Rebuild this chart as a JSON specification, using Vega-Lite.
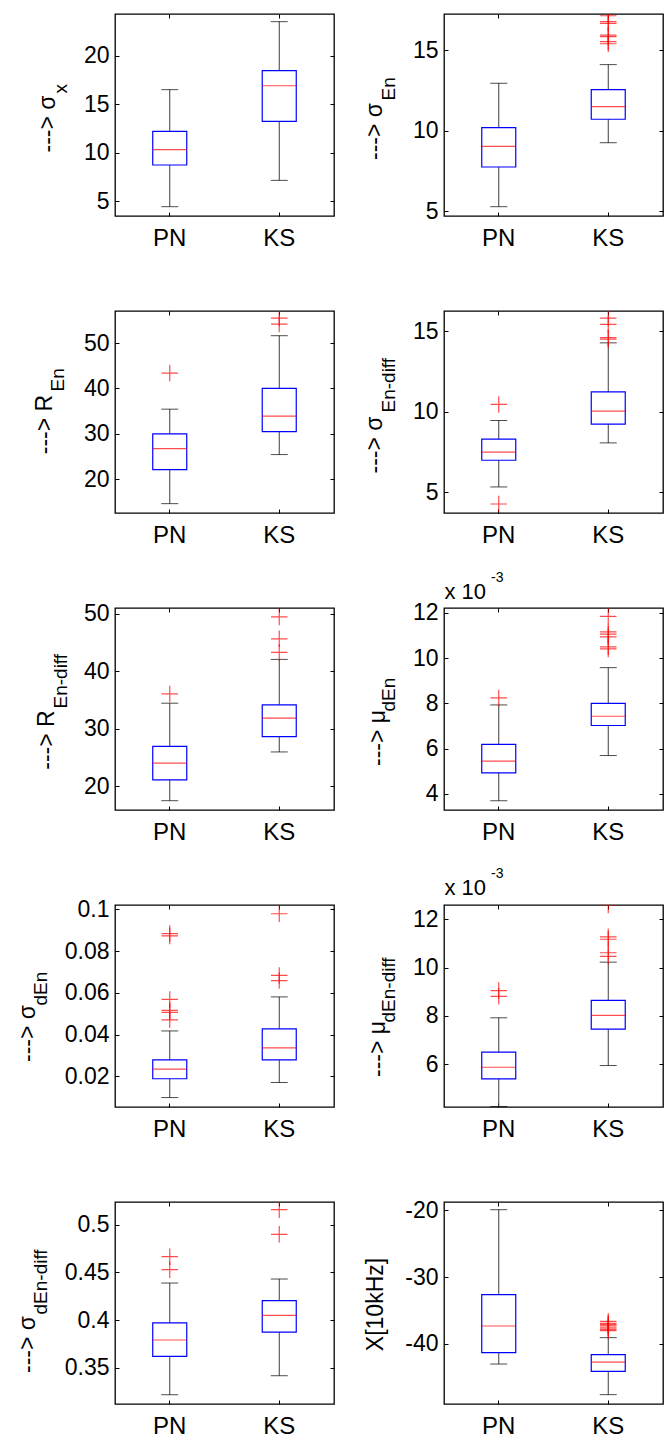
{
  "$schema": "https://vega.github.io/schema/vega-lite/v6.json",
  "background": "white",
  "padding": {"left": 15, "top": 12, "right": 0, "bottom": 0},
  "datasets": {
    "stats": [
      {"panel": "P1", "group": "PN", "lo": 4.45, "q1": 8.74, "med": 10.32, "q3": 12.21, "hi": 16.5},
      {"panel": "P1", "group": "KS", "lo": 7.16, "q1": 13.24, "med": 16.9, "q3": 18.46, "hi": 23.5},
      {"panel": "P2", "group": "PN", "lo": 5.27, "q1": 7.74, "med": 9.02, "q3": 10.19, "hi": 12.95},
      {"panel": "P2", "group": "KS", "lo": 9.25, "q1": 10.71, "med": 11.49, "q3": 12.55, "hi": 14.11},
      {"panel": "P3", "group": "PN", "lo": 14.63, "q1": 22.13, "med": 26.76, "q3": 30.0, "hi": 35.44},
      {"panel": "P3", "group": "KS", "lo": 25.44, "q1": 30.51, "med": 33.9, "q3": 40.0, "hi": 51.62},
      {"panel": "P4", "group": "PN", "lo": 5.33, "q1": 6.99, "med": 7.49, "q3": 8.3, "hi": 9.46},
      {"panel": "P4", "group": "KS", "lo": 8.07, "q1": 9.23, "med": 10.04, "q3": 11.24, "hi": 14.29},
      {"panel": "P5", "group": "PN", "lo": 17.46, "q1": 21.09, "med": 23.98, "q3": 26.92, "hi": 34.42},
      {"panel": "P5", "group": "KS", "lo": 25.94, "q1": 28.59, "med": 31.82, "q3": 34.13, "hi": 42.04},
      {"panel": "P6", "group": "PN", "lo": 0.00369, "q1": 0.00492, "med": 0.00544, "q3": 0.00618, "hi": 0.00793},
      {"panel": "P6", "group": "KS", "lo": 0.00569, "q1": 0.00702, "med": 0.00743, "q3": 0.008, "hi": 0.00958},
      {"panel": "P7", "group": "PN", "lo": 0.0099, "q1": 0.0189, "med": 0.0235, "q3": 0.0279, "hi": 0.0418},
      {"panel": "P7", "group": "KS", "lo": 0.0171, "q1": 0.0279, "med": 0.0337, "q3": 0.0428, "hi": 0.0581},
      {"panel": "P8", "group": "PN", "lo": 0.00424, "q1": 0.00539, "med": 0.00587, "q3": 0.0065, "hi": 0.00792},
      {"panel": "P8", "group": "KS", "lo": 0.00594, "q1": 0.00745, "med": 0.00802, "q3": 0.00864, "hi": 0.01023},
      {"panel": "P9", "group": "PN", "lo": 0.322, "q1": 0.3622, "med": 0.3793, "q3": 0.3971, "hi": 0.4389},
      {"panel": "P9", "group": "KS", "lo": 0.3419, "q1": 0.3876, "med": 0.4051, "q3": 0.4204, "hi": 0.4431},
      {"panel": "P10", "group": "PN", "lo": -43.0, "q1": -41.3, "med": -37.31, "q3": -32.62, "hi": -19.9},
      {"panel": "P10", "group": "KS", "lo": -47.58, "q1": -44.09, "med": -42.7, "q3": -41.6, "hi": -39.05}
    ],
    "outliers": [
      {"panel": "P2", "group": "KS", "v": 15.41},
      {"panel": "P2", "group": "KS", "v": 15.54},
      {"panel": "P2", "group": "KS", "v": 15.85},
      {"panel": "P2", "group": "KS", "v": 15.95},
      {"panel": "P2", "group": "KS", "v": 16.68},
      {"panel": "P2", "group": "KS", "v": 16.78},
      {"panel": "P2", "group": "KS", "v": 17.15},
      {"panel": "P3", "group": "PN", "v": 43.38},
      {"panel": "P3", "group": "KS", "v": 54.19},
      {"panel": "P3", "group": "KS", "v": 55.51},
      {"panel": "P4", "group": "PN", "v": 10.46},
      {"panel": "P4", "group": "PN", "v": 4.27},
      {"panel": "P4", "group": "KS", "v": 14.52},
      {"panel": "P4", "group": "KS", "v": 14.61},
      {"panel": "P4", "group": "KS", "v": 15.44},
      {"panel": "P4", "group": "KS", "v": 15.83},
      {"panel": "P5", "group": "PN", "v": 36.04},
      {"panel": "P5", "group": "KS", "v": 43.25},
      {"panel": "P5", "group": "KS", "v": 45.61},
      {"panel": "P5", "group": "KS", "v": 49.42},
      {"panel": "P6", "group": "PN", "v": 0.00824},
      {"panel": "P6", "group": "KS", "v": 0.01041},
      {"panel": "P6", "group": "KS", "v": 0.0105},
      {"panel": "P6", "group": "KS", "v": 0.01094},
      {"panel": "P6", "group": "KS", "v": 0.01106},
      {"panel": "P6", "group": "KS", "v": 0.01116},
      {"panel": "P6", "group": "KS", "v": 0.01185},
      {"panel": "P7", "group": "PN", "v": 0.0471},
      {"panel": "P7", "group": "PN", "v": 0.0507},
      {"panel": "P7", "group": "PN", "v": 0.0516},
      {"panel": "P7", "group": "PN", "v": 0.0569},
      {"panel": "P7", "group": "PN", "v": 0.0873},
      {"panel": "P7", "group": "PN", "v": 0.0884},
      {"panel": "P7", "group": "KS", "v": 0.0659},
      {"panel": "P7", "group": "KS", "v": 0.0684},
      {"panel": "P7", "group": "KS", "v": 0.0979},
      {"panel": "P8", "group": "PN", "v": 0.00881},
      {"panel": "P8", "group": "PN", "v": 0.00905},
      {"panel": "P8", "group": "KS", "v": 0.01047},
      {"panel": "P8", "group": "KS", "v": 0.01062},
      {"panel": "P8", "group": "KS", "v": 0.01118},
      {"panel": "P8", "group": "KS", "v": 0.01128},
      {"panel": "P8", "group": "KS", "v": 0.0126},
      {"panel": "P9", "group": "PN", "v": 0.4529},
      {"panel": "P9", "group": "PN", "v": 0.4665},
      {"panel": "P9", "group": "KS", "v": 0.4899},
      {"panel": "P9", "group": "KS", "v": 0.5157},
      {"panel": "P10", "group": "KS", "v": -36.6},
      {"panel": "P10", "group": "KS", "v": -36.9},
      {"panel": "P10", "group": "KS", "v": -37.1},
      {"panel": "P10", "group": "KS", "v": -37.3},
      {"panel": "P10", "group": "KS", "v": -37.6},
      {"panel": "P10", "group": "KS", "v": -37.8},
      {"panel": "P10", "group": "KS", "v": -38.0}
    ]
  },
  "columns": 2,
  "spacing": {"row": 95, "column": 110},
  "bounds": "flush",
  "concat": [
    {
      "width": 219, "height": 202,
      "data": {"name": "stats"},
      "transform": [{"filter": "datum.panel === 'P1'"}],
      "layer": [
        {"mark": {"type": "rule", "color": "#3c3c3c", "strokeWidth": 1},
         "encoding": {
           "x": {"field": "group", "type": "nominal", "scale": {"domain": ["PN", "KS"], "paddingInner": 0, "paddingOuter": 0}, "axis": {"orient": "bottom", "title": null}},
           "y": {"field": "lo", "type": "quantitative", "scale": {"domain": [3.49, 24.29], "nice": false, "zero": false}, "axis": {"orient": "left", "values": [5, 10, 15, 20], "labelExpr": "'' + datum.value", "title": "---> σ", "titleX": -61, "titleY": 109.5}},
           "y2": {"field": "hi"}}},
        {"transform": [{"fold": ["lo", "hi"], "as": ["end", "v"]}],
         "mark": {"type": "tick", "orient": "horizontal", "size": 17, "thickness": 1, "color": "black"},
         "encoding": {"x": {"field": "group", "type": "nominal", "axis": null}, "y": {"field": "v", "type": "quantitative", "axis": null}}},
        {"mark": {"type": "bar", "width": 34, "fill": "white", "stroke": "#0000ff", "strokeWidth": 1.2},
         "encoding": {
           "x": {"field": "group", "type": "nominal", "axis": {"orient": "top", "title": null}},
           "y": {"field": "q1", "type": "quantitative", "axis": {"orient": "right", "values": [5, 10, 15, 20], "title": "x", "titleX": -268, "titleY": 79}},
           "y2": {"field": "q3"}}},
        {"mark": {"type": "tick", "orient": "horizontal", "size": 34, "thickness": 1.2, "color": "#ff0000"},
         "encoding": {"x": {"field": "group", "type": "nominal", "axis": null}, "y": {"field": "med", "type": "quantitative", "axis": null}}},
        {"data": {"name": "outliers"}, "transform": [{"filter": "datum.panel === 'P1'"}],
         "mark": {"type": "point", "shape": "M-1,0H1M0,-1V1", "filled": false, "color": "#ff0000", "size": 272, "strokeWidth": 1.2, "clip": true},
         "encoding": {"x": {"field": "group", "type": "nominal", "axis": null}, "y": {"field": "v", "type": "quantitative", "axis": null}}}
      ],
      "resolve": {"axis": {"x": "independent", "y": "independent"}}
    },
    {
      "width": 219, "height": 202,
      "data": {"name": "stats"},
      "transform": [{"filter": "datum.panel === 'P2'"}],
      "layer": [
        {"mark": {"type": "rule", "color": "#3c3c3c", "strokeWidth": 1},
         "encoding": {
           "x": {"field": "group", "type": "nominal", "scale": {"domain": ["PN", "KS"], "paddingInner": 0, "paddingOuter": 0}, "axis": {"orient": "bottom", "title": null}},
           "y": {"field": "lo", "type": "quantitative", "scale": {"domain": [4.69, 17.26], "nice": false, "zero": false}, "axis": {"orient": "left", "values": [5, 10, 15], "labelExpr": "'' + datum.value", "title": "---> σ", "titleX": -63, "titleY": 117}},
           "y2": {"field": "hi"}}},
        {"transform": [{"fold": ["lo", "hi"], "as": ["end", "v"]}],
         "mark": {"type": "tick", "orient": "horizontal", "size": 17, "thickness": 1, "color": "black"},
         "encoding": {"x": {"field": "group", "type": "nominal", "axis": null}, "y": {"field": "v", "type": "quantitative", "axis": null}}},
        {"mark": {"type": "bar", "width": 34, "fill": "white", "stroke": "#0000ff", "strokeWidth": 1.2},
         "encoding": {
           "x": {"field": "group", "type": "nominal", "axis": {"orient": "top", "title": null}},
           "y": {"field": "q1", "type": "quantitative", "axis": {"orient": "right", "values": [5, 10, 15], "title": "En", "titleX": -269, "titleY": 86}},
           "y2": {"field": "q3"}}},
        {"mark": {"type": "tick", "orient": "horizontal", "size": 34, "thickness": 1.2, "color": "#ff0000"},
         "encoding": {"x": {"field": "group", "type": "nominal", "axis": null}, "y": {"field": "med", "type": "quantitative", "axis": null}}},
        {"data": {"name": "outliers"}, "transform": [{"filter": "datum.panel === 'P2'"}],
         "mark": {"type": "point", "shape": "M-1,0H1M0,-1V1", "filled": false, "color": "#ff0000", "size": 272, "strokeWidth": 1.2, "clip": true},
         "encoding": {"x": {"field": "group", "type": "nominal", "axis": null}, "y": {"field": "v", "type": "quantitative", "axis": null}}}
      ],
      "resolve": {"axis": {"x": "independent", "y": "independent"}}
    },
    {
      "width": 219, "height": 202,
      "data": {"name": "stats"},
      "transform": [{"filter": "datum.panel === 'P3'"}],
      "layer": [
        {"mark": {"type": "rule", "color": "#3c3c3c", "strokeWidth": 1},
         "encoding": {
           "x": {"field": "group", "type": "nominal", "scale": {"domain": ["PN", "KS"], "paddingInner": 0, "paddingOuter": 0}, "axis": {"orient": "bottom", "title": null}},
           "y": {"field": "lo", "type": "quantitative", "scale": {"domain": [12.57, 57.06], "nice": false, "zero": false}, "axis": {"orient": "left", "values": [20, 30, 40, 50], "labelExpr": "'' + datum.value", "title": "---> R", "titleX": -64, "titleY": 113}},
           "y2": {"field": "hi"}}},
        {"transform": [{"fold": ["lo", "hi"], "as": ["end", "v"]}],
         "mark": {"type": "tick", "orient": "horizontal", "size": 17, "thickness": 1, "color": "black"},
         "encoding": {"x": {"field": "group", "type": "nominal", "axis": null}, "y": {"field": "v", "type": "quantitative", "axis": null}}},
        {"mark": {"type": "bar", "width": 34, "fill": "white", "stroke": "#0000ff", "strokeWidth": 1.2},
         "encoding": {
           "x": {"field": "group", "type": "nominal", "axis": {"orient": "top", "title": null}},
           "y": {"field": "q1", "type": "quantitative", "axis": {"orient": "right", "values": [20, 30, 40, 50], "title": "En", "titleX": -271, "titleY": 80}},
           "y2": {"field": "q3"}}},
        {"mark": {"type": "tick", "orient": "horizontal", "size": 34, "thickness": 1.2, "color": "#ff0000"},
         "encoding": {"x": {"field": "group", "type": "nominal", "axis": null}, "y": {"field": "med", "type": "quantitative", "axis": null}}},
        {"data": {"name": "outliers"}, "transform": [{"filter": "datum.panel === 'P3'"}],
         "mark": {"type": "point", "shape": "M-1,0H1M0,-1V1", "filled": false, "color": "#ff0000", "size": 272, "strokeWidth": 1.2, "clip": true},
         "encoding": {"x": {"field": "group", "type": "nominal", "axis": null}, "y": {"field": "v", "type": "quantitative", "axis": null}}}
      ],
      "resolve": {"axis": {"x": "independent", "y": "independent"}}
    },
    {
      "width": 219, "height": 202,
      "data": {"name": "stats"},
      "transform": [{"filter": "datum.panel === 'P4'"}],
      "layer": [
        {"mark": {"type": "rule", "color": "#3c3c3c", "strokeWidth": 1},
         "encoding": {
           "x": {"field": "group", "type": "nominal", "scale": {"domain": ["PN", "KS"], "paddingInner": 0, "paddingOuter": 0}, "axis": {"orient": "bottom", "title": null}},
           "y": {"field": "lo", "type": "quantitative", "scale": {"domain": [3.71, 16.27], "nice": false, "zero": false}, "axis": {"orient": "left", "values": [5, 10, 15], "labelExpr": "'' + datum.value", "title": "---> σ", "titleX": -63, "titleY": 133.5}},
           "y2": {"field": "hi"}}},
        {"transform": [{"fold": ["lo", "hi"], "as": ["end", "v"]}],
         "mark": {"type": "tick", "orient": "horizontal", "size": 17, "thickness": 1, "color": "black"},
         "encoding": {"x": {"field": "group", "type": "nominal", "axis": null}, "y": {"field": "v", "type": "quantitative", "axis": null}}},
        {"mark": {"type": "bar", "width": 34, "fill": "white", "stroke": "#0000ff", "strokeWidth": 1.2},
         "encoding": {
           "x": {"field": "group", "type": "nominal", "axis": {"orient": "top", "title": null}},
           "y": {"field": "q1", "type": "quantitative", "axis": {"orient": "right", "values": [5, 10, 15], "title": "En-diff", "titleX": -269, "titleY": 101}},
           "y2": {"field": "q3"}}},
        {"mark": {"type": "tick", "orient": "horizontal", "size": 34, "thickness": 1.2, "color": "#ff0000"},
         "encoding": {"x": {"field": "group", "type": "nominal", "axis": null}, "y": {"field": "med", "type": "quantitative", "axis": null}}},
        {"data": {"name": "outliers"}, "transform": [{"filter": "datum.panel === 'P4'"}],
         "mark": {"type": "point", "shape": "M-1,0H1M0,-1V1", "filled": false, "color": "#ff0000", "size": 272, "strokeWidth": 1.2, "clip": true},
         "encoding": {"x": {"field": "group", "type": "nominal", "axis": null}, "y": {"field": "v", "type": "quantitative", "axis": null}}}
      ],
      "resolve": {"axis": {"x": "independent", "y": "independent"}}
    },
    {
      "width": 219, "height": 202,
      "data": {"name": "stats"},
      "transform": [{"filter": "datum.panel === 'P5'"}],
      "layer": [
        {"mark": {"type": "rule", "color": "#3c3c3c", "strokeWidth": 1},
         "encoding": {
           "x": {"field": "group", "type": "nominal", "scale": {"domain": ["PN", "KS"], "paddingInner": 0, "paddingOuter": 0}, "axis": {"orient": "bottom", "title": null}},
           "y": {"field": "lo", "type": "quantitative", "scale": {"domain": [15.84, 50.98], "nice": false, "zero": false}, "axis": {"orient": "left", "values": [20, 30, 40, 50], "labelExpr": "'' + datum.value", "title": "---> R", "titleX": -62, "titleY": 131.5}},
           "y2": {"field": "hi"}}},
        {"transform": [{"fold": ["lo", "hi"], "as": ["end", "v"]}],
         "mark": {"type": "tick", "orient": "horizontal", "size": 17, "thickness": 1, "color": "black"},
         "encoding": {"x": {"field": "group", "type": "nominal", "axis": null}, "y": {"field": "v", "type": "quantitative", "axis": null}}},
        {"mark": {"type": "bar", "width": 34, "fill": "white", "stroke": "#0000ff", "strokeWidth": 1.2},
         "encoding": {
           "x": {"field": "group", "type": "nominal", "axis": {"orient": "top", "title": null}},
           "y": {"field": "q1", "type": "quantitative", "axis": {"orient": "right", "values": [20, 30, 40, 50], "title": "En-diff", "titleX": -268, "titleY": 100}},
           "y2": {"field": "q3"}}},
        {"mark": {"type": "tick", "orient": "horizontal", "size": 34, "thickness": 1.2, "color": "#ff0000"},
         "encoding": {"x": {"field": "group", "type": "nominal", "axis": null}, "y": {"field": "med", "type": "quantitative", "axis": null}}},
        {"data": {"name": "outliers"}, "transform": [{"filter": "datum.panel === 'P5'"}],
         "mark": {"type": "point", "shape": "M-1,0H1M0,-1V1", "filled": false, "color": "#ff0000", "size": 272, "strokeWidth": 1.2, "clip": true},
         "encoding": {"x": {"field": "group", "type": "nominal", "axis": null}, "y": {"field": "v", "type": "quantitative", "axis": null}}}
      ],
      "resolve": {"axis": {"x": "independent", "y": "independent"}}
    },
    {
      "width": 219, "height": 202,
      "title": {"text": "-3", "fontSize": 14, "dx": 47, "dy": 5, "offset": 0},
      "data": {"name": "stats"},
      "transform": [{"filter": "datum.panel === 'P6'"}],
      "layer": [
        {"mark": {"type": "rule", "color": "#3c3c3c", "strokeWidth": 1},
         "encoding": {
           "x": {"field": "group", "type": "nominal", "scale": {"domain": ["PN", "KS"], "paddingInner": 0, "paddingOuter": 0}, "axis": {"orient": "bottom", "title": null}},
           "y": {"field": "lo", "type": "quantitative", "scale": {"domain": [0.00328, 0.01222], "nice": false, "zero": false}, "axis": {"orient": "left", "values": [0.004, 0.006, 0.008, 0.01, 0.012], "labelExpr": "'' + round(datum.value * 1000)", "title": "---> μ", "titleX": -60, "titleY": 129.5}},
           "y2": {"field": "hi"}}},
        {"transform": [{"fold": ["lo", "hi"], "as": ["end", "v"]}],
         "mark": {"type": "tick", "orient": "horizontal", "size": 17, "thickness": 1, "color": "black"},
         "encoding": {"x": {"field": "group", "type": "nominal", "axis": null}, "y": {"field": "v", "type": "quantitative", "axis": null}}},
        {"mark": {"type": "bar", "width": 34, "fill": "white", "stroke": "#0000ff", "strokeWidth": 1.2},
         "encoding": {
           "x": {"field": "group", "type": "nominal", "axis": {"orient": "top", "title": "x 10", "titleX": 0, "titleY": -10, "titleFontSize": 22}},
           "y": {"field": "q1", "type": "quantitative", "axis": {"orient": "right", "values": [0.004, 0.006, 0.008, 0.01, 0.012], "title": "dEn", "titleX": -269, "titleY": 103}},
           "y2": {"field": "q3"}}},
        {"mark": {"type": "tick", "orient": "horizontal", "size": 34, "thickness": 1.2, "color": "#ff0000"},
         "encoding": {"x": {"field": "group", "type": "nominal", "axis": null}, "y": {"field": "med", "type": "quantitative", "axis": null}}},
        {"data": {"name": "outliers"}, "transform": [{"filter": "datum.panel === 'P6'"}],
         "mark": {"type": "point", "shape": "M-1,0H1M0,-1V1", "filled": false, "color": "#ff0000", "size": 272, "strokeWidth": 1.2, "clip": true},
         "encoding": {"x": {"field": "group", "type": "nominal", "axis": null}, "y": {"field": "v", "type": "quantitative", "axis": null}}}
      ],
      "resolve": {"axis": {"x": "independent", "y": "independent"}}
    },
    {
      "width": 219, "height": 202,
      "data": {"name": "stats"},
      "transform": [{"filter": "datum.panel === 'P7'"}],
      "layer": [
        {"mark": {"type": "rule", "color": "#3c3c3c", "strokeWidth": 1},
         "encoding": {
           "x": {"field": "group", "type": "nominal", "scale": {"domain": ["PN", "KS"], "paddingInner": 0, "paddingOuter": 0}, "axis": {"orient": "bottom", "title": null}},
           "y": {"field": "lo", "type": "quantitative", "scale": {"domain": [0.00538, 0.1021], "nice": false, "zero": false}, "axis": {"orient": "left", "values": [0.02, 0.04, 0.06, 0.08, 0.1], "labelExpr": "'' + datum.value", "title": "---> σ", "titleX": -81, "titleY": 128}},
           "y2": {"field": "hi"}}},
        {"transform": [{"fold": ["lo", "hi"], "as": ["end", "v"]}],
         "mark": {"type": "tick", "orient": "horizontal", "size": 17, "thickness": 1, "color": "black"},
         "encoding": {"x": {"field": "group", "type": "nominal", "axis": null}, "y": {"field": "v", "type": "quantitative", "axis": null}}},
        {"mark": {"type": "bar", "width": 34, "fill": "white", "stroke": "#0000ff", "strokeWidth": 1.2},
         "encoding": {
           "x": {"field": "group", "type": "nominal", "axis": {"orient": "top", "title": null}},
           "y": {"field": "q1", "type": "quantitative", "axis": {"orient": "right", "values": [0.02, 0.04, 0.06, 0.08, 0.1], "title": "dEn", "titleX": -288, "titleY": 100}},
           "y2": {"field": "q3"}}},
        {"mark": {"type": "tick", "orient": "horizontal", "size": 34, "thickness": 1.2, "color": "#ff0000"},
         "encoding": {"x": {"field": "group", "type": "nominal", "axis": null}, "y": {"field": "med", "type": "quantitative", "axis": null}}},
        {"data": {"name": "outliers"}, "transform": [{"filter": "datum.panel === 'P7'"}],
         "mark": {"type": "point", "shape": "M-1,0H1M0,-1V1", "filled": false, "color": "#ff0000", "size": 272, "strokeWidth": 1.2, "clip": true},
         "encoding": {"x": {"field": "group", "type": "nominal", "axis": null}, "y": {"field": "v", "type": "quantitative", "axis": null}}}
      ],
      "resolve": {"axis": {"x": "independent", "y": "independent"}}
    },
    {
      "width": 219, "height": 202,
      "title": {"text": "-3", "fontSize": 14, "dx": 47, "dy": 5, "offset": 0},
      "data": {"name": "stats"},
      "transform": [{"filter": "datum.panel === 'P8'"}],
      "layer": [
        {"mark": {"type": "rule", "color": "#3c3c3c", "strokeWidth": 1},
         "encoding": {
           "x": {"field": "group", "type": "nominal", "scale": {"domain": ["PN", "KS"], "paddingInner": 0, "paddingOuter": 0}, "axis": {"orient": "bottom", "title": null}},
           "y": {"field": "lo", "type": "quantitative", "scale": {"domain": [0.00422, 0.0126], "nice": false, "zero": false}, "axis": {"orient": "left", "values": [0.006, 0.008, 0.01, 0.012], "labelExpr": "'' + round(datum.value * 1000)", "title": "---> μ", "titleX": -60, "titleY": 143.5}},
           "y2": {"field": "hi"}}},
        {"transform": [{"fold": ["lo", "hi"], "as": ["end", "v"]}],
         "mark": {"type": "tick", "orient": "horizontal", "size": 17, "thickness": 1, "color": "black"},
         "encoding": {"x": {"field": "group", "type": "nominal", "axis": null}, "y": {"field": "v", "type": "quantitative", "axis": null}}},
        {"mark": {"type": "bar", "width": 34, "fill": "white", "stroke": "#0000ff", "strokeWidth": 1.2},
         "encoding": {
           "x": {"field": "group", "type": "nominal", "axis": {"orient": "top", "title": "x 10", "titleX": 0, "titleY": -11, "titleFontSize": 22}},
           "y": {"field": "q1", "type": "quantitative", "axis": {"orient": "right", "values": [0.006, 0.008, 0.01, 0.012], "title": "dEn-diff", "titleX": -269, "titleY": 117}},
           "y2": {"field": "q3"}}},
        {"mark": {"type": "tick", "orient": "horizontal", "size": 34, "thickness": 1.2, "color": "#ff0000"},
         "encoding": {"x": {"field": "group", "type": "nominal", "axis": null}, "y": {"field": "med", "type": "quantitative", "axis": null}}},
        {"data": {"name": "outliers"}, "transform": [{"filter": "datum.panel === 'P8'"}],
         "mark": {"type": "point", "shape": "M-1,0H1M0,-1V1", "filled": false, "color": "#ff0000", "size": 272, "strokeWidth": 1.2, "clip": true},
         "encoding": {"x": {"field": "group", "type": "nominal", "axis": null}, "y": {"field": "v", "type": "quantitative", "axis": null}}}
      ],
      "resolve": {"axis": {"x": "independent", "y": "independent"}}
    },
    {
      "width": 219, "height": 202,
      "data": {"name": "stats"},
      "transform": [{"filter": "datum.panel === 'P9'"}],
      "layer": [
        {"mark": {"type": "rule", "color": "#3c3c3c", "strokeWidth": 1},
         "encoding": {
           "x": {"field": "group", "type": "nominal", "scale": {"domain": ["PN", "KS"], "paddingInner": 0, "paddingOuter": 0}, "axis": {"orient": "bottom", "title": null}},
           "y": {"field": "lo", "type": "quantitative", "scale": {"domain": [0.3123, 0.5237], "nice": false, "zero": false}, "axis": {"orient": "left", "values": [0.35, 0.4, 0.45, 0.5], "labelExpr": "'' + datum.value", "title": "---> σ", "titleX": -81, "titleY": 142}},
           "y2": {"field": "hi"}}},
        {"transform": [{"fold": ["lo", "hi"], "as": ["end", "v"]}],
         "mark": {"type": "tick", "orient": "horizontal", "size": 17, "thickness": 1, "color": "black"},
         "encoding": {"x": {"field": "group", "type": "nominal", "axis": null}, "y": {"field": "v", "type": "quantitative", "axis": null}}},
        {"mark": {"type": "bar", "width": 34, "fill": "white", "stroke": "#0000ff", "strokeWidth": 1.2},
         "encoding": {
           "x": {"field": "group", "type": "nominal", "axis": {"orient": "top", "title": null}},
           "y": {"field": "q1", "type": "quantitative", "axis": {"orient": "right", "values": [0.35, 0.4, 0.45, 0.5], "title": "dEn-diff", "titleX": -288, "titleY": 112}},
           "y2": {"field": "q3"}}},
        {"mark": {"type": "tick", "orient": "horizontal", "size": 34, "thickness": 1.2, "color": "#ff0000"},
         "encoding": {"x": {"field": "group", "type": "nominal", "axis": null}, "y": {"field": "med", "type": "quantitative", "axis": null}}},
        {"data": {"name": "outliers"}, "transform": [{"filter": "datum.panel === 'P9'"}],
         "mark": {"type": "point", "shape": "M-1,0H1M0,-1V1", "filled": false, "color": "#ff0000", "size": 272, "strokeWidth": 1.2, "clip": true},
         "encoding": {"x": {"field": "group", "type": "nominal", "axis": null}, "y": {"field": "v", "type": "quantitative", "axis": null}}}
      ],
      "resolve": {"axis": {"x": "independent", "y": "independent"}}
    },
    {
      "width": 219, "height": 202,
      "data": {"name": "stats"},
      "transform": [{"filter": "datum.panel === 'P10'"}],
      "layer": [
        {"mark": {"type": "rule", "color": "#3c3c3c", "strokeWidth": 1},
         "encoding": {
           "x": {"field": "group", "type": "nominal", "scale": {"domain": ["PN", "KS"], "paddingInner": 0, "paddingOuter": 0}, "axis": {"orient": "bottom", "title": null}},
           "y": {"field": "lo", "type": "quantitative", "scale": {"domain": [-48.98, -18.75], "nice": false, "zero": false}, "axis": {"orient": "left", "values": [-40, -30, -20], "labelExpr": "'' + datum.value", "title": "X[10kHz]", "titleX": -62, "titleY": 102}},
           "y2": {"field": "hi"}}},
        {"transform": [{"fold": ["lo", "hi"], "as": ["end", "v"]}],
         "mark": {"type": "tick", "orient": "horizontal", "size": 17, "thickness": 1, "color": "black"},
         "encoding": {"x": {"field": "group", "type": "nominal", "axis": null}, "y": {"field": "v", "type": "quantitative", "axis": null}}},
        {"mark": {"type": "bar", "width": 34, "fill": "white", "stroke": "#0000ff", "strokeWidth": 1.2},
         "encoding": {
           "x": {"field": "group", "type": "nominal", "axis": {"orient": "top", "title": null}},
           "y": {"field": "q1", "type": "quantitative", "axis": {"orient": "right", "values": [-40, -30, -20], "title": null}},
           "y2": {"field": "q3"}}},
        {"mark": {"type": "tick", "orient": "horizontal", "size": 34, "thickness": 1.2, "color": "#ff0000"},
         "encoding": {"x": {"field": "group", "type": "nominal", "axis": null}, "y": {"field": "med", "type": "quantitative", "axis": null}}},
        {"data": {"name": "outliers"}, "transform": [{"filter": "datum.panel === 'P10'"}],
         "mark": {"type": "point", "shape": "M-1,0H1M0,-1V1", "filled": false, "color": "#ff0000", "size": 272, "strokeWidth": 1.2, "clip": true},
         "encoding": {"x": {"field": "group", "type": "nominal", "axis": null}, "y": {"field": "v", "type": "quantitative", "axis": null}}}
      ],
      "resolve": {"axis": {"x": "independent", "y": "independent"}}
    }
  ],
  "config": {
    "font": "Liberation Sans",
    "view": {"stroke": "black", "strokeWidth": 1.3},
    "axis": {
      "domain": false, "grid": false, "ticks": true, "tickSize": -4, "tickColor": "black", "tickWidth": 1,
      "labelFont": "Liberation Sans", "labelFontSize": 23, "labelColor": "black", "labelPadding": 10,
      "labelOverlap": false, "labelBound": false,
      "titleFont": "Liberation Sans", "titleFontSize": 23, "titleFontWeight": "normal", "titleColor": "black"
    },
    "axisX": {"labelFontSize": 24, "labelPadding": 14, "labelAngle": 0},
    "axisY": {"titleAngle": 270, "titleBaseline": "alphabetic"},
    "axisLeft": {"titleAlign": "center"},
    "axisRight": {"labels": false, "titleAlign": "left", "titleFontSize": 19},
    "axisTop": {"labels": false, "titleAngle": 0, "titleAlign": "left", "titleBaseline": "alphabetic", "titleFontSize": 22},
    "title": {"font": "Liberation Sans", "fontSize": 14, "fontWeight": "normal", "color": "black", "anchor": "start", "frame": "group"}
  }
}
